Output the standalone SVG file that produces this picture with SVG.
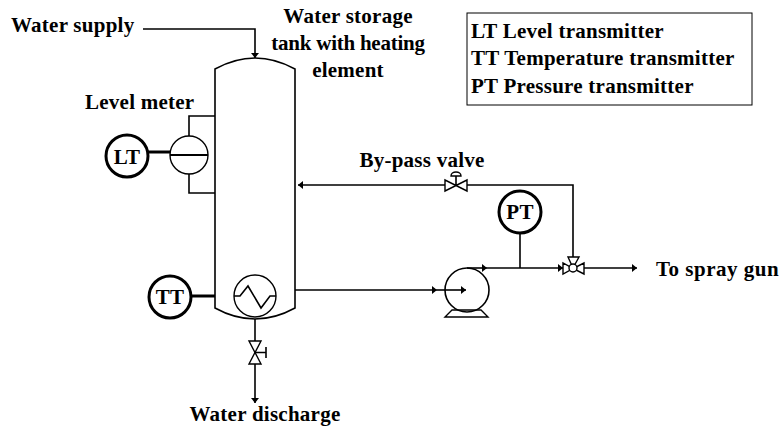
<svg xmlns="http://www.w3.org/2000/svg" width="780" height="432" viewBox="0 0 780 432">
<style>
text{font-family:"Liberation Serif","Times New Roman",serif;font-weight:bold;font-size:21px;letter-spacing:.25px;fill:#000}
.m{text-anchor:middle}
.l{fill:none;stroke:#000;stroke-width:1.6}
.e{fill:#fff;stroke:#000;stroke-width:1.4}
.i{fill:#fff;stroke:#000;stroke-width:3}
.t{stroke:#000;stroke-width:3;fill:none}
</style>
<defs>
<marker id="a" markerUnits="userSpaceOnUse" markerWidth="6" markerHeight="8" refX="5" refY="4" orient="auto"><path d="M0 0L5 4L0 8Z" fill="#000"/></marker>
</defs>
<rect width="780" height="432" fill="#fff"/>
<g id="connectors">
<path class="l" d="M143 29H255V58" marker-end="url(#a)"/>
<path class="l" d="M255 319V403" marker-end="url(#a)"/>
<path class="l" d="M573 257V185H298" marker-end="url(#a)"/>
<path class="l" d="M295 290H437" marker-end="url(#a)"/>
<path class="l" d="M437 290H466" marker-end="url(#a)"/>
<path class="l" d="M467 268H487" marker-end="url(#a)"/>
<path class="l" d="M487 268H563" marker-end="url(#a)"/>
<path class="l" d="M584 268H637" marker-end="url(#a)"/>
<path class="l" d="M520 233V268"/>
<path class="l" d="M215 116H189V136M189 174V193H215"/>
<path class="t" d="M148 152H170"/>
<path class="t" d="M192 296H215"/>
</g>
<g id="tank">
<path class="l" d="M215 308V69Q255 47 295 69V308Q255 330 215 308Z"/>
<circle class="e" cx="255" cy="296" r="21"/>
<path class="l" d="M234 296H240L248 286L261 308L270 296H276"/>
<text class="m" x="348" y="23">Water storage</text>
<text class="m" x="348" y="50" style="letter-spacing:-.25px">tank with heating</text>
<text class="m" x="348" y="77">element</text>
</g>
<g id="water-supply"><text x="11" y="32">Water supply</text></g>
<g id="level-meter">
<circle class="e" cx="189" cy="155" r="19"/>
<path class="l" d="M170 155H208" style="stroke-width:2"/>
<text x="85" y="109">Level meter</text>
</g>
<g id="lt"><circle class="i" cx="127" cy="156" r="21"/><text class="m" x="127" y="164">LT</text></g>
<g id="tt"><circle class="i" cx="170" cy="297" r="21"/><text class="m" x="170" y="304">TT</text></g>
<g id="pt"><circle class="i" cx="520" cy="212" r="21"/><text class="m" x="520" y="219">PT</text></g>
<g id="discharge-valve">
<path class="e" d="M249 341H261L249 364H261Z"/>
<path class="l" d="M255 352.500H266M266 347V358"/>
<text class="m" x="265" y="421">Water discharge</text>
</g>
<g id="bypass-valve">
<path class="e" d="M445 180V191L467 180V191Z"/>
<path class="l" d="M456 185V176"/>
<path d="M451 176A5 4 0 0 1 461 176Z" fill="#fff" stroke="#000" stroke-width="1.400"/>
<text class="m" x="422" y="167">By-pass valve</text>
</g>
<g id="pump">
<path class="e" d="M452 310L445 317H488L481 310Z"/>
<circle class="l" cx="467" cy="290" r="22"/>
</g>
<g id="three-way-valve">
<path class="e" d="M563 263V274L573 268.500ZM584 263V274L573 268.500ZM568 257H579L573 268Z"/>
<circle class="e" cx="573" cy="268" r="4"/>
</g>
<g id="spray"><text x="656" y="276" style="letter-spacing:.5px">To spray gun</text></g>
<g id="legend">
<rect x="467" y="13" width="285" height="92" fill="#fff" stroke="#000" stroke-width="1"/>
<text x="471" y="38">LT Level transmitter</text>
<text x="471" y="65">TT Temperature transmitter</text>
<text x="471" y="93">PT Pressure transmitter</text>
</g>
</svg>
